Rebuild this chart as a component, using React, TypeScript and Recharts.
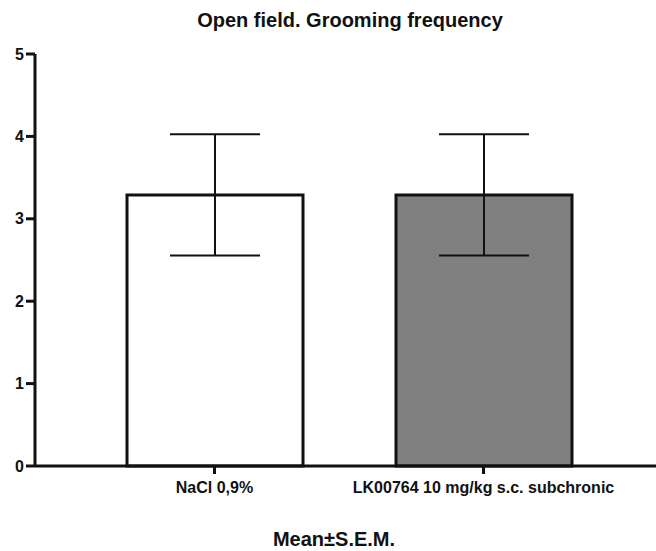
import React from 'react';
import { BarChart, Bar, XAxis, YAxis, ErrorBar, Cell } from 'recharts';

// groups and their mean ± SEM
const groups = ['NaCl 0,9%', 'LK00764 10 mg/kg s.c. subchronic'];
const means = [3.29, 3.29];
const sems = [0.735, 0.735];
const fills = ['#ffffff', '#808080'];
const yTicks = [0, 1, 2, 3, 4, 5];

const data = groups.map((name, i) => ({ name, mean: means[i], sem: sems[i] }));

const FONT = '"Liberation Sans", Arial, sans-serif';
const axisStyle = { stroke: '#111', strokeWidth: 3 };

export default function App() {
  return (
    <div style={{ position: 'absolute', left: 0, top: 0, width: 656, height: 551, background: '#fff', fontFamily: FONT }}>
      <div
        style={{
          position: 'absolute', left: 0, width: 700, top: 9, textAlign: 'center',
          fontSize: 20, fontWeight: 'bold', color: '#111',
        }}
      >
        Open field. Grooming frequency
      </div>
      <BarChart
        width={656}
        height={551}
        data={data}
        margin={{ top: 54, right: 0, bottom: 45, left: 0 }}
      >
        <XAxis
          dataKey="name"
          padding={{ left: 45, right: 38 }}
          height={40}
          axisLine={axisStyle}
          tickLine={axisStyle}
          tickSize={8}
          tickMargin={8}
          interval={0}
          tick={{ fill: '#111', fontSize: 16, fontWeight: 'bold', fontFamily: FONT }}
        />
        <YAxis
          domain={[0, 5]}
          ticks={yTicks}
          width={35}
          axisLine={axisStyle}
          tickLine={axisStyle}
          tickSize={9}
          tick={{ fill: '#111', fontSize: 16, fontWeight: 'bold', fontFamily: FONT }}
        />
        <Bar dataKey="mean" barSize={176} stroke="#111" strokeWidth={3} isAnimationActive={false}>
          {data.map((d, i) => (
            <Cell key={d.name} fill={fills[i]} />
          ))}
          <ErrorBar dataKey="sem" width={45} stroke="#111" strokeWidth={2} isAnimationActive={false} />
        </Bar>
      </BarChart>
      <div
        style={{
          position: 'absolute', left: 0, width: 668, top: 528, textAlign: 'center',
          fontSize: 20, fontWeight: 'bold', color: '#111',
        }}
      >
        Mean±S.E.M.
      </div>
    </div>
  );
}
